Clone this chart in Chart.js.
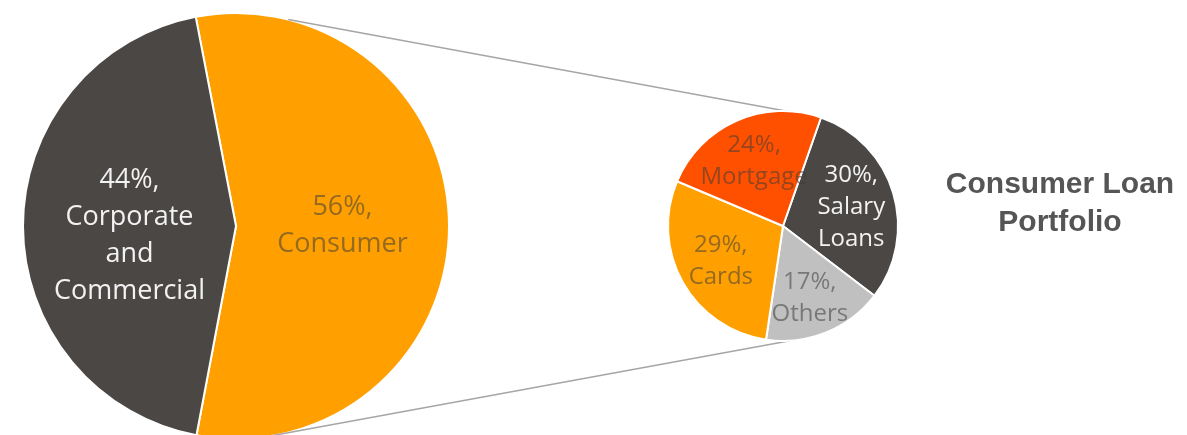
<!DOCTYPE html>
<html>
<head>
<meta charset="utf-8">
<script src="https://cdn.jsdelivr.net/npm/chart.js@4.4.1/dist/chart.umd.min.js"></script>
<style>
  html, body { margin: 0; padding: 0; background: #fff; overflow: hidden; }
  #wrap { position: relative; width: 1187px; height: 435px; overflow: hidden; }
  .layer { position: absolute; left: 0; top: 0; width: 1187px; height: 470px; }
  #title {
    position: absolute; left: 920px; top: 164px; width: 280px;
    text-align: center; font: bold 30px "Liberation Sans", Arial, sans-serif;
    color: #555; line-height: 38px;
  }
</style>
</head>
<body>
<div id="wrap">
  <div class="layer"><canvas id="mainPie" width="1187" height="470"></canvas></div>
  <div class="layer"><canvas id="consumerPie" width="1187" height="470"></canvas></div>
  <div id="title">Consumer Loan<br>Portfolio</div>
</div>
<script>
// portfolio split
const mainLabels = ["Consumer", "Corporate\nand\nCommercial"];
const mainValues = [56, 44];
const mainColors = ["#FFA000", "#4B4745"];
const mainText = ["rgba(60,60,60,0.55)", "#F2F2F2"];

// consumer loan breakdown
const subLabels = ["Salary\nLoans", "Others", "Cards", "Mortgage"];
const subValues = [30, 17, 29, 24];
const subColors = ["#4B4745", "#C0C0C0", "#FFA000", "#FF5000"];
const subText = ["#F2F2F2", "rgba(60,60,60,0.55)", "rgba(60,60,60,0.55)", "rgba(60,60,60,0.55)"];

const FONT = '"Open Sans", "Noto Sans", sans-serif';

// writes "NN%," plus the category name inside each slice
function sliceLabels(textColors, size, lineH, dist, nudge) {
  return {
    id: "sliceLabels",
    afterDatasetsDraw(chart) {
      const ctx = chart.ctx;
      const ds = chart.data.datasets[0];
      const total = ds.data.reduce((a, b) => a + b, 0);
      chart.getDatasetMeta(0).data.forEach((arc, i) => {
        const mid = (arc.startAngle + arc.endAngle) / 2;
        const r = arc.outerRadius * dist;
        const cx = arc.x + Math.cos(mid) * r;
        const cy = arc.y + Math.sin(mid) * r + (nudge ? nudge[i] : 0);
        const pct = Math.round(ds.data[i] / total * 100) + "%,";
        const lines = [pct].concat(chart.data.labels[i].split("\n"));
        ctx.save();
        ctx.font = size + "px " + FONT;
        ctx.fillStyle = textColors[i];
        ctx.textAlign = "center";
        ctx.textBaseline = "middle";
        const top = cy - (lines.length - 1) * lineH / 2;
        lines.forEach((t, k) => ctx.fillText(t, cx, top + k * lineH));
        ctx.restore();
      });
    }
  };
}

const mainChart = new Chart(document.getElementById("mainPie"), {
  type: "pie",
  data: {
    labels: mainLabels,
    datasets: [{ data: mainValues, backgroundColor: mainColors, borderColor: "#fff", borderWidth: 2 }]
  },
  options: {
    responsive: false, animation: false, rotation: -10.9,
    layout: { padding: { left: 22, top: 12, right: 737, bottom: 30 } },
    plugins: { legend: { display: false }, tooltip: { enabled: false } }
  },
  plugins: [sliceLabels(mainText, 27, 37, 0.5, [0, 10])]
});

// grey lines from the consumer slice out to the breakdown pie
const connectors = {
  id: "connectors",
  beforeDatasetsDraw(chart) {
    const big = mainChart.getDatasetMeta(0).data[0];
    const small = chart.getDatasetMeta(0).data[0];
    const pt = (arc, deg) => {
      const a = (deg - 90) * Math.PI / 180;
      return [arc.x + Math.cos(a) * arc.outerRadius, arc.y + Math.sin(a) * arc.outerRadius];
    };
    const ctx = chart.ctx;
    ctx.save();
    ctx.strokeStyle = "#A6A6A6";
    ctx.lineWidth = 1.5;
    [[14.2, 19.3], [173, 176.6]].forEach(([a, b]) => {
      const p = pt(big, a), q = pt(small, b);
      ctx.beginPath();
      ctx.moveTo(p[0], p[1]);
      ctx.lineTo(q[0], q[1]);
      ctx.stroke();
    });
    ctx.restore();
  }
};

new Chart(document.getElementById("consumerPie"), {
  type: "pie",
  data: {
    labels: subLabels,
    datasets: [{ data: subValues, backgroundColor: subColors, borderColor: "#fff", borderWidth: 2 }]
  },
  options: {
    responsive: false, animation: false, rotation: 19.3,
    layout: { padding: { left: 667, top: 110, right: 288, bottom: 128 } },
    plugins: { legend: { display: false }, tooltip: { enabled: false } }
  },
  plugins: [connectors, sliceLabels(subText, 24, 32, 0.62, [2, 6, 0, 0])]
});
</script>
</body>
</html>
